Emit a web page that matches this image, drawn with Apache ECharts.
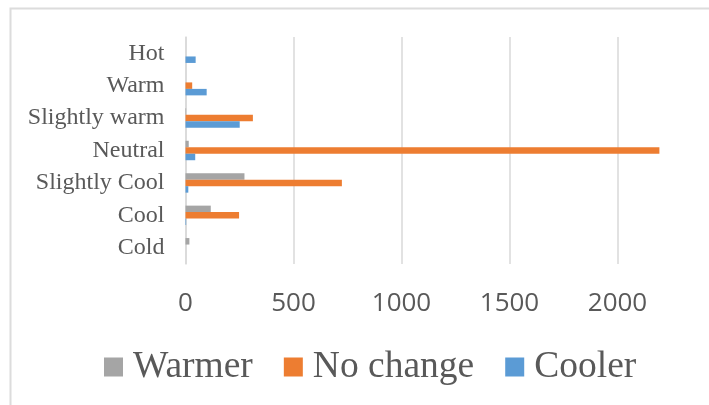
<!DOCTYPE html>
<html>
<head>
<meta charset="utf-8">
<script src="https://cdn.jsdelivr.net/npm/echarts@6/dist/echarts.min.js"></script>
<style>
  html, body { margin: 0; padding: 0; background: #ffffff; overflow: hidden; }
  /* the plot area runs past the right edge of the page, so the div is wider than the view */
  #chart { width: 760px; height: 405px; }
</style>
</head>
<body>
<div id="chart"></div>
<script>
// Thermal sensation categories, listed from bottom to top of the axis
const categories = ['Cold', 'Cool', 'Slightly Cool', 'Neutral', 'Slightly warm', 'Warm', 'Hot'];

// Counts of thermal preference votes for each sensation category
const warmer   = [18, 117, 273, 15, 3, 0, 0];
const noChange = [0, 248, 724, 2194, 312, 31, 0];
const cooler   = [0, 3, 13, 45, 251, 98, 47];

const xTicks = { min: 0, max: 2500, step: 500 };

const textGray = '#595959';
const gridGray = '#d9d9d9';

const chart = echarts.init(document.getElementById('chart'), null, { renderer: 'canvas' });

function barSeries(name, data, color) {
  return {
    name: name,
    type: 'bar',
    data: data,
    itemStyle: { color: color },
    barGap: '0%',
    barCategoryGap: '40%',
    silent: true
  };
}

chart.setOption({
  animation: false,
  backgroundColor: '#ffffff',
  graphic: [{
    type: 'rect',
    shape: { x: 10.5, y: 8.5, width: 800, height: 500 },
    style: { fill: 'none', stroke: '#dcdcdc', lineWidth: 2 },
    silent: true,
    z: -1
  }],
  grid: { left: 185.5, top: 37, width: 540, height: 227, containLabel: false },
  legend: {
    data: ['Warmer', 'No change', 'Cooler'],
    left: 104,
    top: 345,
    padding: 0,
    icon: 'rect',
    itemWidth: 19,
    itemHeight: 19,
    itemGap: 31,
    textStyle: {
      fontFamily: '"Liberation Serif", "Times New Roman", serif',
      fontSize: 37.5,
      color: textGray,
      lineHeight: 40,
      padding: [4, 0, 0, 5]
    },
    selectedMode: false
  },
  xAxis: {
    type: 'value',
    min: xTicks.min,
    max: xTicks.max,
    interval: xTicks.step,
    axisLine: { show: false },
    axisTick: { show: false },
    splitLine: { show: true, lineStyle: { color: gridGray, width: 1.5 } },
    axisLabel: {
      showMaxLabel: false,
      margin: 27,
      formatter: function (v) { return String(v); },
      fontFamily: '"Open Sans", sans-serif',
      fontSize: 26,
      color: textGray
    }
  },
  yAxis: {
    type: 'category',
    data: categories,
    axisLine: { show: true, lineStyle: { color: gridGray, width: 1.5 } },
    axisTick: { show: false },
    axisLabel: {
      margin: 21,
      fontFamily: '"Liberation Serif", "Times New Roman", serif',
      fontSize: 24,
      color: textGray
    }
  },
  series: [
    barSeries('Warmer', warmer, '#a5a5a5'),
    barSeries('No change', noChange, '#ed7d31'),
    barSeries('Cooler', cooler, '#5b9bd5')
  ]
});
</script>
</body>
</html>
